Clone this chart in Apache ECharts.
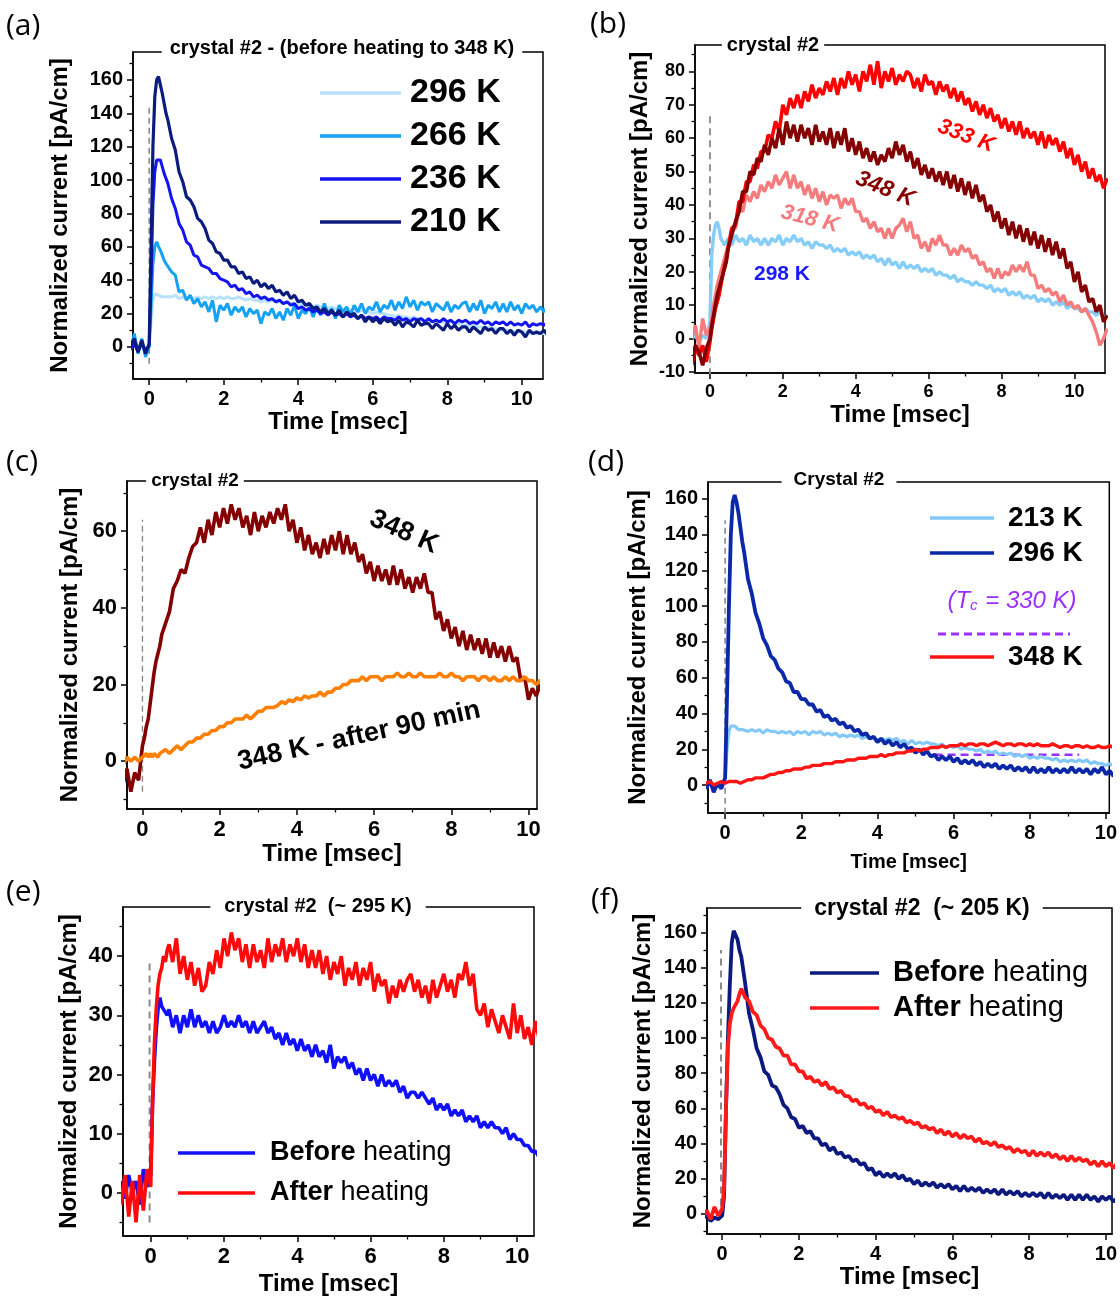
<!DOCTYPE html>
<html><head><meta charset="utf-8">
<script src="https://cdn.jsdelivr.net/npm/echarts@6/dist/echarts.min.js"></script>
<style>html,body{margin:0;padding:0;background:#fff}#c{width:1120px;height:1300px}</style>
</head><body><div id="c"></div>
<script>
// ---------- shared time axis (msec) ----------
const T = [-0.8,-0.7,-0.6,-0.5,-0.4,-0.3,-0.2,-0.1,0,0.05,0.1,0.15,0.2,0.25,0.3,0.35,0.4,0.45,
0.5,0.6,0.7,0.8,0.9,1.0,1.1,1.2,1.3,1.4,
1.5,1.6,1.7,1.8,1.9,2.0,2.1,2.2,2.3,2.4,
2.5,2.6,2.7,2.8,2.9,3.0,3.1,3.2,3.3,3.4,
3.5,3.6,3.7,3.8,3.9,4.0,4.1,4.2,4.3,4.4,
4.5,4.6,4.7,4.8,4.9,5.0,5.1,5.2,5.3,5.4,
5.5,5.6,5.7,5.8,5.9,6.0,6.1,6.2,6.3,6.4,
6.5,6.6,6.7,6.8,6.9,7.0,7.1,7.2,7.3,7.4,
7.5,7.6,7.7,7.8,7.9,8.0,8.1,8.2,8.3,8.4,
8.5,8.6,8.7,8.8,8.9,9.0,9.1,9.2,9.3,9.4,
9.5,9.6,9.7,9.8,9.9,10.0,10.1,10.2,10.3,10.4,
10.5,10.6,10.7,10.8,10.9];

// ---------- tick labels ----------
const xTicks = [0,2,4,6,8,10];
const xMinor = 2;
const yTicksA = [0,20,40,60,80,100,120,140,160];
const yTicksB = [-10,0,10,20,30,40,50,60,70,80];
const yTicksC = [0,20,40,60];
const yTicksD = [0,20,40,60,80,100,120,140,160];
const yTicksE = [0,10,20,30,40];
const yTicksF = [0,20,40,60,80,100,120,140,160];

// ---------- (a) ----------
const a296 = [1,-2,2,0,3,-1,2,-2,1, 15,28,32,33,31,32,30,31,30,
31,30,31,29,30,29,30,29,30,29,
30,29,30,29,30,29,30,29,29,30,
29,28,29,28,28,27,28,27,28,27,
27,26,27,26,26,25,26,25,25,24,
25,24,24,23,24,23,23,22,23,22,
22,21,22,21,21,20,21,20,20,19,
19,18,19,18,18,17,18,17,17,16,
16,15,16,15,15,14,15,14,14,13,
13,12,13,12,12,11,12,11,11,10,
10,10,10,9,10,9,9,8,9,8,
8,8,7,8,7];
const a266 = [3,-5,6,-2,8,-4,5,-6,0, 25,50,60,63,60,58,55,52,50,
49,45,43,33,34,28,31,26,29,24,
27,21,28,15,25,22,26,19,24,21,
24,18,23,20,22,14,21,19,23,17,
21,16,23,19,25,17,22,20,24,18,
24,19,26,20,23,17,25,21,24,19,
25,21,26,20,24,22,27,21,25,23,
28,22,27,23,30,24,28,22,27,25,
27,21,26,24,22,27,21,25,23,26,
27,21,26,22,28,20,25,23,27,21,
26,21,27,22,25,20,26,23,25,21,
24,21,25,22,24];
const a236 = [1,-2,3,-1,2,-3,2,-2,1, 40,85,105,112,113,112,108,104,101,
98,89,83,74,70,63,61,55,54,49,
48,47,44,44,41,40,39,36,37,34,
35,32,33,30,31,29,30,28,29,27,
28,26,27,25,26,23,24,22,23,21,
22,20,21,19,21,19,20,18,20,18,
19,17,19,17,18,17,18,16,18,17,
17,16,18,16,17,15,17,16,17,15,
17,15,16,15,17,15,16,14,16,15,
16,14,15,14,16,14,15,13,15,14,
15,13,15,13,14,13,15,12,14,13,
14,13,15,13,14];
const a210 = [2,-3,4,1,5,-3,4,-4,2, 60,120,150,160,162,157,152,146,140,
136,125,118,105,99,90,88,84,77,75,
71,64,62,57,56,52,52,48,48,44,
45,41,42,38,40,36,38,35,37,33,
34,31,33,29,31,27,28,25,26,23,
24,21,23,20,22,19,22,18,21,19,
20,17,19,15,18,15,17,14,17,15,
16,13,16,12,15,14,12,16,13,14,
14,11,14,12,10,14,11,13,10,12,
12,9,12,10,8,12,10,11,8,11,
11,8,10,7,10,9,6,10,8,9,
8,10,7,9,8];

// ---------- (b) ----------
const b298 = [1,-1,2,0,1,-1,1,0,5, 25,31,34,35,33,30,29,28,29,
30,28,31,29,30,28,31,29,30,28,
30,28,30,29,31,28,30,29,31,29,
30,28,29,27,29,28,28,27,28,26,
27,26,27,25,26,25,26,24,25,24,
25,23,24,22,24,22,23,21,23,21,
22,21,22,20,21,20,21,19,20,19,
19,18,19,17,18,17,17,16,17,16,
16,15,16,14,15,14,15,13,14,13,
14,12,13,12,13,11,12,11,12,10,
11,10,11,9,10,9,9,8,9,8,
8,7,8,6,7];
const b318 = [3,-2,5,0,4,-3,6,1,3, 6,10,13,16,18,20,22,24,26,
28,33,33,39,38,43,41,44,42,46,
44,47,45,49,46,48,50,45,49,45,
47,43,46,42,45,41,44,40,43,42,
43,39,42,40,42,38,38,35,36,33,
35,32,33,30,33,30,33,34,36,32,
35,30,31,27,29,26,30,28,31,28,
28,25,27,25,28,26,27,24,25,22,
23,20,21,18,21,18,20,19,22,20,
22,20,23,19,19,15,16,14,15,13,
14,11,13,10,11,9,10,8,9,7,
5,2,-2,0,3];
const b333 = [-2,-6,-1,-8,-3,-5,-2,-7,-1, 3,6,9,11,13,16,19,22,24,
27,33,34,41,41,47,47,52,51,56,
56,61,60,65,62,70,67,72,69,73,
69,74,71,76,72,75,73,77,74,78,
73,78,75,80,76,79,74,80,77,82,
76,83,75,80,77,81,76,79,77,80,
79,75,78,74,79,76,77,73,77,74,
76,72,75,71,74,70,72,68,71,67,
70,66,69,65,67,63,66,62,65,61,
65,60,63,60,62,58,62,57,61,58,
60,56,59,54,57,52,55,50,53,48,
51,47,49,45,48];
const b348 = [-1,-5,0,-7,-2,-4,-8,-3,0, 4,7,10,13,15,17,19,21,23,
27,31,35,38,44,44,50,49,54,53,
58,55,60,57,63,58,65,60,64,59,
64,60,63,58,64,59,62,58,63,57,
62,58,63,56,60,55,59,54,57,53,
56,52,55,53,57,54,59,55,58,53,
56,51,54,49,52,48,51,47,50,46,
50,45,49,44,48,43,47,42,46,41,
43,38,40,35,38,33,36,31,35,30,
34,29,33,28,32,27,31,26,30,25,
29,24,27,21,23,17,20,14,16,11,
12,8,10,5,7];

// ---------- (c) ----------
const c348 = [-1,-4,0,-6,-2,-8,-3,-5,4, 6,9,11,15,19,23,26,28,30,
33,36,39,45,47,50,49,53,56,57,
61,57,63,59,65,61,66,62,67,63,
66,61,64,59,65,60,64,61,65,62,
66,63,67,60,63,57,61,55,59,54,
57,53,58,54,59,55,60,54,59,54,
57,52,54,49,52,47,51,47,50,46,
51,46,50,45,48,44,48,45,49,44,
44,37,39,34,37,32,35,30,34,29,
33,29,32,28,32,27,31,27,30,26,
30,26,27,21,22,16,19,17,20,17,
18,17,19,16,18];
const c348after = [1,0,1,-1,1,0,1,0,1, 1,2,1,2,1,2,2,1,2,
2,3,2,3,4,3,4,5,5,6,
6,7,7,8,8,9,9,10,10,11,
11,11,12,11,12,13,13,14,14,14,
14.5,15.5,15,16,15.5,16.5,16,17,16.5,17,
17,18,17,18,18,19,19,20,20,21,
21,21,22,21,22,22,22,21,22,22,
22,23,22,22,23,22,22,23,22,22,
22,22,23,22,22,23,22,22,21,22,
22,22,21,22,22,21,22,21,21,22,
21,22,21,21,22,21,21,20,21,21,
21,20,21,21,20];

// ---------- (d) ----------
const d213 = [1,-1,1,0,2,-1,1,0,4, 20,30,33,34,33,32,31,32,31,
32,30,31,30,31,29,31,30,30,29,
30,29,30,28,30,29,30,28,30,29,
30,28,29,28,29,27,28,27,28,27,
28,26,27,26,27,25,26,25,26,25,
26,24,25,23,25,23,24,23,24,23,
23,22,23,21,22,21,22,20,21,20,
20,19,20,18,19,18,19,17,18,17,
18,16,17,16,17,15,16,15,16,15,
15,14,15,13,14,13,14,13,14,13,
14,12,13,12,12,11,12,11,11,10,
10,11,10,9,10];
const d296 = [1,-3,2,-2,3,-4,1,-2,4, 50,100,140,158,162,158,152,144,136,
130,115,107,96,90,82,78,72,70,65,
63,58,57,52,52,48,48,45,45,41,
42,38,39,36,37,34,35,32,33,30,
31,28,29,26,27,24,26,23,25,22,
24,21,23,20,21,18,20,17,19,16,
17,14,16,14,16,13,15,12,14,12,
14,11,13,10,12,10,12,9,11,9,
11,8,10,8,10,7,10,7,9,7,
10,7,9,7,9,7,10,7,9,7,
9,6,9,7,10,6,8,5,9,7,
8,6,7,5,7];
const d348 = [1,2,0,1,2,0,1,2,1, 1,2,1,2,1,2,2,1,2,
2,3,3,4,4,4,5,6,6,7,
7,8,8,9,9,9,10,10,11,11,
11,12,12,12,13,13,13,14,14,14,
15,15,15,16,16,16,17,16,17,17,
18,18,18,19,19,20,19,20,20,21,
21,21,22,21,22,22,22,23,22,23,
23,22,23,23,22,23,24,23,22,23,
23,22,23,23,22,23,22,23,22,22,
22,23,22,21,22,22,21,22,22,21,
22,21,21,22,21,21,22,21,21,22,
21,22,21,21,22];
const dTcT = [5.5, 9.3];
const dTcV = [17, 17];

// ---------- (e) ----------
const eBefore = [2,-1,3,0,2,-2,4,1,3, 15,22,27.5,31,33,31.5,31,31,30,
31,28,30,27,30,28,31,28,30,28,
29,27,29,27,28,30,28,29,28,30,
28,29,27,29,27,28,29,27,28,26,
27,25,27,25,26,24,26,24,25,23,
25,23,24,22,25,21,23,22,23,21,
22,20,21,19,21,19,20,18,20,18,
19,18,19,17,18,16,17,17,16,17,
16,15,16,14,15,14,15,13,14,13,
14,12,13,12,13,11,12,11,12,11,
11,10,11,9,10,9,9,8,8,7,
7,6,7,6,6];
const eAfter = [-2,3,-4,2,-5,3,-3,4,1, 15,25,31,35,37,38,40,39,41,
42,39,43,37,40,36,39,35,38,34,
35,39,37,41,38,43,40,44,41,43,
39,42,38,42,39,41,38,43,39,42,
40,43,39,42,40,43,39,42,38,41,
38,41,37,40,36,39,37,40,35,38,
36,39,35,38,36,39,34,37,35,36,
32,35,33,36,34,36,37,34,36,33,
35,32,36,33,35,37,34,36,33,37,
36,39,35,37,31,30,32,28,31,29,
27,30,28,26,32,27,30,26,28,25,
29,26,28,27,26];

// ---------- (f) ----------
const fBefore = [-1,-3,0,-2,-1,-4,-2,-3,-1, 10,60,100,130,154,161,160,156,150,
146,131,114,105,94,89,81,79,73,72,
68,62,60,55,54,49,50,46,47,43,
43,39,40,36,38,34,35,32,33,30,
31,28,29,25,26,22,24,21,23,21,
23,20,22,19,20,17,19,16,18,16,
18,15,17,15,17,14,16,13,16,13,
15,13,15,12,14,12,14,11,14,11,
13,11,13,10,12,10,12,10,12,9,
12,9,11,9,11,8,11,8,11,8,
11,8,10,7,10,8,10,7,9,8,
9,7,9,8,9];
const fAfter = [1,-2,3,-1,2,-3,4,-1,3, 15,60,95,108,114,117,119,121,125,
128,123,121,115,113,107,105,100,99,95,
94,90,90,85,85,81,81,77,78,75,
76,73,75,71,72,69,70,67,67,64,
65,62,63,60,61,58,59,56,58,55,
56,54,55,52,53,51,52,49,50,48,
49,46,48,45,47,44,46,43,45,43,
44,41,43,40,41,39,41,38,39,37,
38,35,37,35,36,33,36,33,35,33,
35,32,34,31,33,30,33,30,32,30,
31,28,30,27,30,27,29,26,29,27,
28,26,29,27,28];

// ---------- laser-trigger markers (dashed, t = 0) ----------
const markT = [0, 0];
const markTef = [-0.03, -0.03];
const markA = [-10, 145];
const markB = [-11, 68];
const markC = [-8, 63];
const markD = [-16, 148];
const markE = [-5, 39];
const markF = [-2, 150];

// =====================================================
const F = '"Liberation Sans", Arial, sans-serif';
const pts = (xs, ys) => ys.map((y, i) => [xs[i], y]);

const grids = [
  {left:133, top:52,  width:410, height:327},
  {left:695, top:45,  width:410, height:328},
  {left:127, top:481, width:410, height:328},
  {left:708, top:482, width:406, height:331},
  {left:123, top:907, width:411, height:329},
  {left:707, top:908, width:411, height:326}
].map(g => Object.assign(g, {show:true, borderColor:'#000', borderWidth:1.5, backgroundColor:'rgba(0,0,0,0)', containLabel:false}));

function xAx(gi, min, max, fs, gap, nfs){
  return {type:'value', gridIndex:gi, min, max, minInterval:xMinor, maxInterval:xMinor,
    name:'Time [msec]', nameLocation:'middle', nameGap:gap,
    nameTextStyle:{fontFamily:F, fontWeight:'bold', fontSize:nfs, color:'#000'},
    axisLine:{show:true, onZero:false, lineStyle:{color:'#000', width:1.5}},
    axisTick:{show:true, customValues:xTicks, length:6, lineStyle:{color:'#000', width:1.5}},
    minorTick:{show:true, splitNumber:2, length:3.5, lineStyle:{color:'#000', width:1.3}},
    axisLabel:{customValues:xTicks, fontFamily:F, fontWeight:'bold', fontSize:fs, color:'#000', margin:10},
    splitLine:{show:false}, minorSplitLine:{show:false}};
}
function yAx(gi, min, max, iv, ticks, fs, gap){
  return {type:'value', gridIndex:gi, min, max, minInterval:iv, maxInterval:iv,
    name:'Normalized current [pA/cm]', nameLocation:'middle', nameGap:gap, nameRotate:90,
    nameTextStyle:{fontFamily:F, fontWeight:'bold', fontSize:24, color:'#000'},
    axisLine:{show:true, onZero:false, lineStyle:{color:'#000', width:1.5}},
    axisTick:{show:true, customValues:ticks, length:6, lineStyle:{color:'#000', width:1.5}},
    minorTick:{show:true, splitNumber:2, length:3.5, lineStyle:{color:'#000', width:1.3}},
    axisLabel:{customValues:ticks, fontFamily:F, fontWeight:'bold', fontSize:fs, color:'#000', margin:10},
    splitLine:{show:false}, minorSplitLine:{show:false}};
}

const xAxes = [
  xAx(0, -0.435, 10.57, 20, 29, 24),
  xAx(1, -0.41, 10.84, 18, 30, 24),
  xAx(2, -0.40, 10.22, 22, 28, 24),
  xAx(3, -0.45, 10.09, 20, 39, 20),
  xAx(4, -0.756, 10.46, 22, 36, 24),
  xAx(5, -0.395, 10.16, 20, 29, 24)
];
const yAxes = [
  yAx(0, -19.2, 176.7, 20, yTicksA, 20, 61),
  yAx(1, -10.3, 87.9, 10, yTicksB, 18, 43),
  yAx(2, -12.5, 73.1, 20, yTicksC, 22, 45),
  yAx(3, -15.6, 169.3, 20, yTicksD, 20, 58),
  yAx(4, -7.3, 48.3, 10, yTicksE, 22, 42),
  yAx(5, -11.4, 173.9, 20, yTicksF, 20, 52)
];

function ln(gi, name, xs, ys, color, w, dash){
  return {type:'line', name, xAxisIndex:gi, yAxisIndex:gi, data:pts(xs, ys),
    showSymbol:false, symbol:'none', silent:true, animation:false, sampling:null,
    lineStyle:{color, width:w, type: dash || 'solid', join:'bevel'}, itemStyle:{color}};
}
const GRAY = '#8a8a8a';
const series = [
  ln(0,'markA', markT, markA, GRAY, 1.6, [6,4]),
  ln(0,'296 K', T, a296, '#b8e2fb', 3),
  ln(0,'266 K', T, a266, '#16a2f3', 3),
  ln(0,'236 K', T, a236, '#1414ee', 3),
  ln(0,'210 K', T, a210, '#0c1c7e', 3.2),

  ln(1,'markB', markT, markB, GRAY, 1.8, [7,5]),
  ln(1,'298 K', T, b298, '#86cefa', 3.4),
  ln(1,'318 K', T, b318, '#f47c7c', 3.4),
  ln(1,'333 K', T, b333, '#ff0000', 3.6),
  ln(1,'348 K', T, b348, '#850000', 3.6),

  ln(2,'markC', markT, markC, GRAY, 1.4, [6,4]),
  ln(2,'348 K', T, c348, '#850000', 3.6),
  ln(2,'348 K - after 90 min', T, c348after, '#ff8000', 3.6),

  ln(3,'markD', markT, markD, GRAY, 1.6, [6,4]),
  ln(3,'Tc = 330 K', dTcT, dTcV, '#9b30ff', 2.5, [8,5]),
  ln(3,'213 K', T, d213, '#82c9f9', 3.2),
  ln(3,'296 K', T, d296, '#0b28a8', 3.8),
  ln(3,'348 K', T, d348, '#ff1414', 3.4),

  ln(4,'markE', markTef, markE, GRAY, 2, [7,5]),
  ln(4,'Before heating', T, eBefore, '#1010ff', 3.6),
  ln(4,'After heating', T, eAfter, '#ff0a0a', 3.6),

  ln(5,'markF', markTef, markF, GRAY, 2, [7,5]),
  ln(5,'Before heating', T, fBefore, '#0c1a80', 3.8),
  ln(5,'After heating', T, fAfter, '#ff1a1a', 3.8)
];

// ---------- text / legend graphics ----------
const G = [];
function txt(x, y, text, font, fill, align, rot, extra){
  const st = Object.assign({text, x:0, y:0, font, fill, align, verticalAlign:'middle', textAlign:align, textVerticalAlign:'middle'}, extra||{});
  G.push({type:'text', x, y, rotation:(rot||0)*Math.PI/180, z:100, silent:true, style:st});
}
function seg(x1, x2, y, color, w, dash){
  G.push({type:'line', z:100, silent:true, shape:{x1, y1:y, x2, y2:y}, style:{stroke:color, lineWidth:w, lineDash:dash||null}});
}
const B = s => 'bold ' + s + 'px ' + F;
// panel letters
const LF = '30px "Open Sans", sans-serif';
txt(6, 26, '(a)', LF, '#000', 'left');
txt(590, 24, '(b)', LF, '#000', 'left');
txt(6, 462, '(c)', LF, '#000', 'left');
txt(588, 462, '(d)', LF, '#000', 'left');
txt(6, 892, '(e)', LF, '#000', 'left');
txt(591, 900, '(f)', LF, '#000', 'left');
// titles on top frame
const W = {backgroundColor:'#fff'};
txt(342, 48, 'crystal #2 - (before heating to 348 K)', B(20), '#000', 'center', 0, Object.assign({padding:[3,8]}, W));
txt(773, 45, 'crystal #2', B(20), '#000', 'center', 0, Object.assign({padding:[3,5]}, W));
txt(195, 481, 'crystal #2', B(19), '#000', 'center', 0, Object.assign({padding:[3,5]}, W));
txt(839, 480, 'Crystal #2', B(19), '#000', 'center', 0, Object.assign({padding:[3,12]}, W));
txt(318, 906, 'crystal #2  (~ 295 K)', B(20), '#000', 'center', 0, Object.assign({padding:[3,14]}, W));
txt(922, 909, 'crystal #2  (~ 205 K)', B(23), '#000', 'center', 0, Object.assign({padding:[3,13]}, W));
// (a) legend
const aLeg = [['296 K','#b8e2fb',93],['266 K','#16a2f3',136],['236 K','#1414ee',179],['210 K','#0c1c7e',222]];
aLeg.forEach(([t,c,y]) => { seg(320, 401, y, c, 3.5); txt(410, y, t, B(34), '#000', 'left'); });
// (b) annotations
txt(966, 136, '333 K', 'italic ' + B(22), '#ff0000', 'center', -21);
txt(885, 189, '348 K', 'italic ' + B(23), '#850000', 'center', -22);
txt(810, 219, '318 K', 'italic ' + B(22), '#f47c7c', 'center', -14);
txt(782, 274, '298 K', B(21), '#1a1aff', 'center');
// (c) annotations
txt(404, 532, '348 K', B(27), '#000', 'center', -24);
txt(359, 736, '348 K - after 90 min', B(27), '#000', 'center', 12.3);
// (d) legend
seg(930, 994, 518, '#82c9f9', 3.5); txt(1008, 518, '213 K', B(28), '#000', 'left');
seg(930, 994, 553, '#0b28a8', 3.5); txt(1008, 553, '296 K', B(28), '#000', 'left');
txt(1012, 601, '{i|(T}{s|c}{i| = 330 K)}', 'italic 24px ' + F, '#9b30ff', 'center', 0,
  {rich:{i:{font:'italic 24px ' + F, fill:'#9b30ff'}, s:{font:'italic 15px ' + F, fill:'#9b30ff', verticalAlign:'bottom', padding:[10,1,0,0]}}});
seg(938, 1070, 634, '#9b30ff', 3, [8,5]);
seg(930, 994, 657, '#ff1414', 3.5); txt(1008, 657, '348 K', B(28), '#000', 'left');
// (e) legend
const rich = s => ({rich:{b:{font:B(s), fill:'#000'}, r:{font:s + 'px ' + F, fill:'#000'}}});
seg(178, 255, 1153, '#1010ff', 3.5); txt(270, 1153, '{b|Before}{r| heating}', B(27), '#000', 'left', 0, rich(27));
seg(178, 255, 1193, '#ff0a0a', 3.5); txt(270, 1193, '{b|After}{r| heating}', B(27), '#000', 'left', 0, rich(27));
// (f) legend
seg(810, 879, 973, '#0c1a80', 3.5); txt(893, 973, '{b|Before}{r| heating}', B(29), '#000', 'left', 0, rich(29));
seg(810, 879, 1008, '#ff1a1a', 3.5); txt(893, 1008, '{b|After}{r| heating}', B(29), '#000', 'left', 0, rich(29));

const chart = echarts.init(document.getElementById('c'), null, {renderer:'canvas'});
chart.setOption({
  animation:false,
  backgroundColor:'#fff',
  textStyle:{fontFamily:F},
  grid:grids, xAxis:xAxes, yAxis:yAxes, series, graphic:G
});
</script>
</body></html>
